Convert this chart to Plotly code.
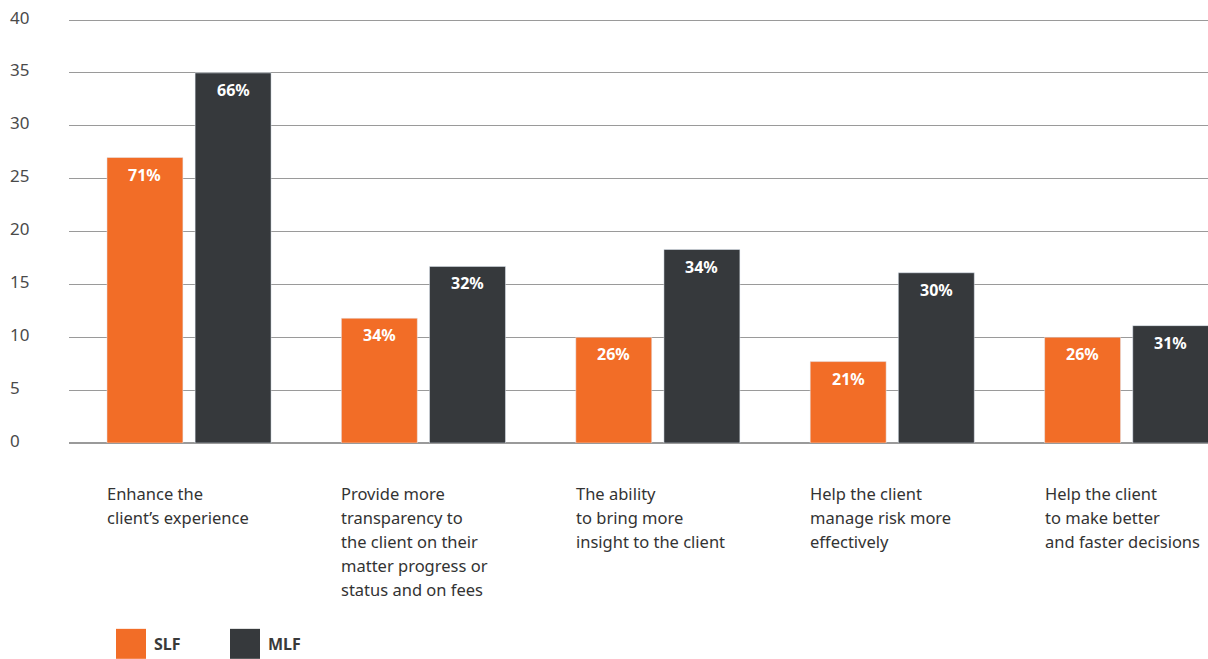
import plotly.graph_objects as go

categories = [
    "Enhance the<br>client’s experience",
    "Provide more<br>transparency to<br>the client on their<br>matter progress or<br>status and on fees",
    "The ability<br>to bring more<br>insight to the client",
    "Help the client<br>manage risk more<br>effectively",
    "Help the client<br>to make better<br>and faster decisions",
]
slf_values = [27.0, 11.8, 10.0, 7.7, 10.0]
mlf_values = [35.0, 16.7, 18.3, 16.1, 11.1]
slf_labels = ["71%", "34%", "26%", "21%", "26%"]
mlf_labels = ["66%", "32%", "34%", "30%", "31%"]
y_ticks = [0, 5, 10, 15, 20, 25, 30, 35, 40]
series_names = ["SLF", "MLF"]

ORANGE = "#F26D27"
DARK = "#36393C"
FONT = "Noto Sans"

W, H = 1208, 659
y_top = 40.1
L, R, B = 69, 0, 216
zero_px = H - B          # pixel row of y = 0
px_per_unit = 423.3 / 40
ph = y_top * px_per_unit
T = H - B - ph
pw = W - L - R

xs = list(range(len(categories)))
bar_w = 0.324
off_slf = -0.35
off_mlf = 0.026

fig = go.Figure()
fig.add_trace(go.Bar(x=xs, y=slf_values, name=series_names[0], marker_color=ORANGE,
                     width=bar_w, offset=off_slf, showlegend=False))
fig.add_trace(go.Bar(x=xs, y=mlf_values, name=series_names[1], marker_color=DARK,
                     width=bar_w, offset=off_mlf, showlegend=False))


def py(px):
    return (zero_px - px) / ph


ann = []
for i in xs:
    ann.append(dict(x=i + off_slf + bar_w / 2, y=slf_values[i], xref="x", yref="y",
                    text="<b>%s</b>" % slf_labels[i], showarrow=False, yanchor="top",
                    yshift=-4, font=dict(family=FONT, size=16, color="white")))
    ann.append(dict(x=i + off_mlf + bar_w / 2, y=mlf_values[i], xref="x", yref="y",
                    text="<b>%s</b>" % mlf_labels[i], showarrow=False, yanchor="top",
                    yshift=-4, font=dict(family=FONT, size=16, color="white")))
    for j, line in enumerate(categories[i].split("<br>")):
        ann.append(dict(x=i + off_slf, y=py(494 + 24 * j), xref="x", yref="paper",
                        text=line, showarrow=False, xanchor="left", yanchor="middle",
                        xshift=-2, align="left",
                        font=dict(family=FONT, size=16.5, color="#333333")))

for t in y_ticks:
    ann.append(dict(x=(8 - L) / pw, y=t, xref="paper", yref="y", text=str(t),
                    showarrow=False, xanchor="left", yanchor="middle", yshift=3,
                    font=dict(family=FONT, size=17, color="#4a4a4a")))

shapes = []
legend_x = [116, 230]
colors = [ORANGE, DARK]
for k in range(2):
    shapes.append(dict(type="rect", xref="paper", yref="paper",
                       x0=(legend_x[k] - L) / pw, x1=(legend_x[k] + 30 - L) / pw,
                       y0=py(629), y1=py(659),
                       fillcolor=colors[k], line=dict(width=0)))
    ann.append(dict(x=(legend_x[k] + 36 - L) / pw, y=py(644), xref="paper",
                    yref="paper", text="<b>%s</b>" % series_names[k], showarrow=False,
                    xanchor="left", yanchor="middle",
                    font=dict(family=FONT, size=16, color="#3a3a3a")))

fig.update_layout(
    width=W, height=H,
    margin=dict(l=L, r=R, t=T, b=B, pad=0),
    paper_bgcolor="white", plot_bgcolor="white",
    annotations=ann, shapes=shapes,
    xaxis=dict(range=[-0.512, 4.347], showticklabels=False, showgrid=False,
               zeroline=False, showline=False, ticks=""),
    yaxis=dict(range=[0, y_top], tickvals=y_ticks, showticklabels=False, showgrid=True,
               gridcolor="#9a9a9a", gridwidth=1, zeroline=True, zerolinecolor="#9a9a9a",
               zerolinewidth=1.5, showline=False, ticks=""),
)

fig.write_html("out.html")
